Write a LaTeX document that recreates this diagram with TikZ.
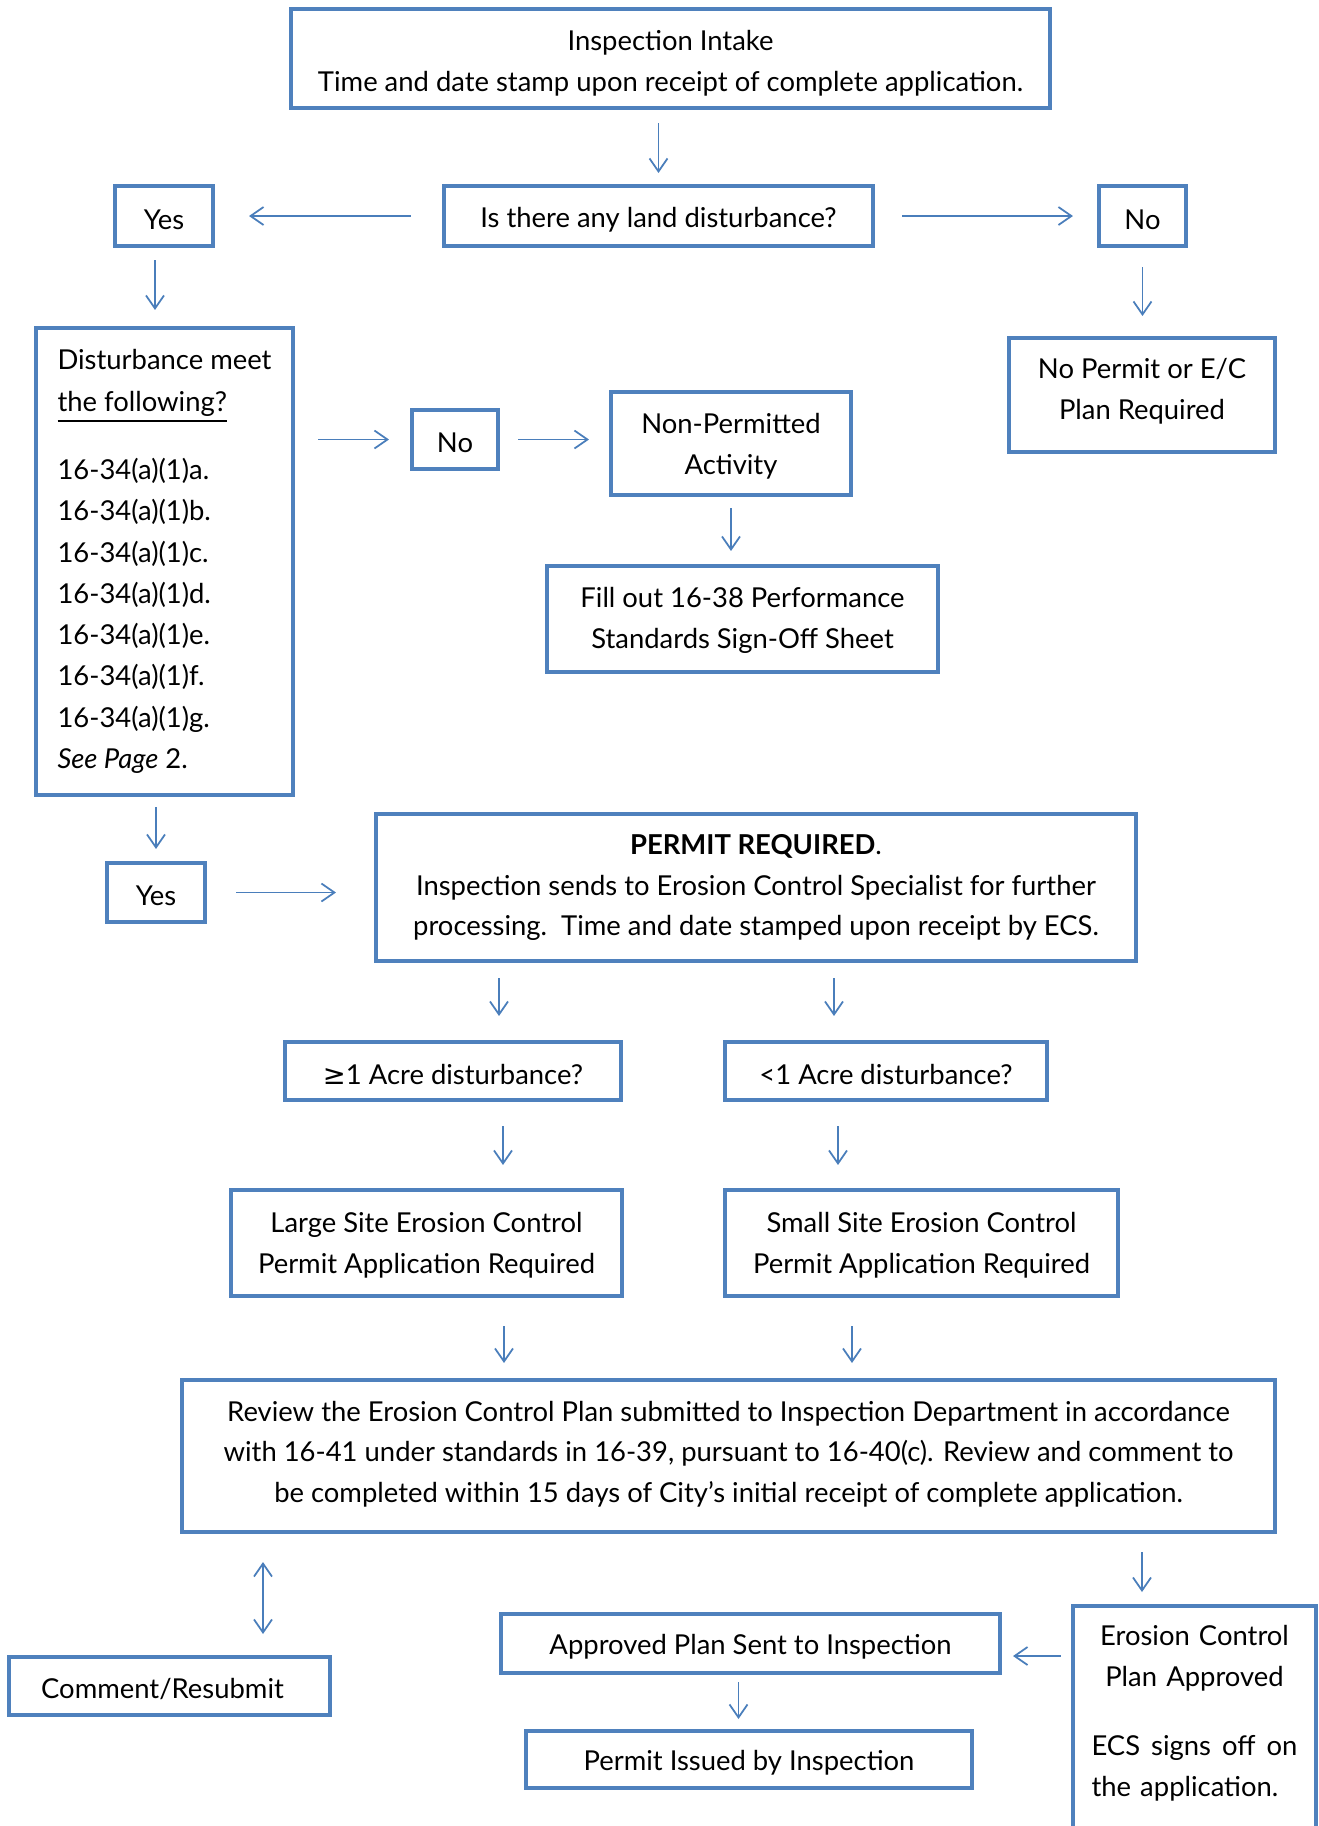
\documentclass[tikz,border=0pt]{standalone}
\usepackage{fontspec}
\setmainfont{Lato}
\newfontfamily\symfont{DejaVu Sans}
\usetikzlibrary{arrows.meta}
\definecolor{boxblue}{RGB}{79,129,189}
\definecolor{arrblue}{RGB}{74,126,187}

\begin{document}
\begin{tikzpicture}[x=1cm,y=-1cm,
  >={Straight Barb[length=1.3mm,width=1.8mm]},
  font=\fontsize{7.8}{11.6}\selectfont,
  box/.style={draw=boxblue,line width=1.15pt,align=center,inner sep=0pt},
  single/.style={box,text height=7.7pt},
  arr/.style={->,draw=arrblue,line width=0.5pt}]
\useasboundingbox (0,0) rectangle (13.18,18.26);
% top part
\node[box,minimum width=7.59cm,minimum height=0.99cm] (intake) at (6.705,0.585)
  {\rule{0pt}{8.4pt}Inspection Intake\\ Time and date stamp upon receipt of complete application.};
\node[single,minimum width=4.29cm,minimum height=0.60cm] (quest) at (6.585,2.16) {Is there any land disturbance?};
\node[single,minimum width=0.98cm,minimum height=0.60cm] (yes1) at (1.64,2.16) {Yes};
\node[single,minimum width=0.87cm,minimum height=0.60cm] (no1) at (11.425,2.16) {No};
\node[box,minimum width=2.66cm,minimum height=1.14cm] (nopermit) at (11.42,3.95) {No Permit or E/C\\ Plan Required\rule[-3.35pt]{0pt}{0pt}};
\node[box,align=left,font=\fontsize{7.8}{11.74}\selectfont,minimum width=2.57cm,minimum height=4.67cm] (dist) at (1.645,5.615)
  {Disturbance meet\\ \underline{the following?}\\[7.7pt]
   16-34(a)(1)a.\\ 16-34(a)(1)b.\\ 16-34(a)(1)c.\\ 16-34(a)(1)d.\\
   16-34(a)(1)e.\\ 16-34(a)(1)f.\\ 16-34(a)(1)g.\\ \textit{See Page} 2.};
\node[single,minimum width=0.86cm,minimum height=0.59cm] (no2) at (4.55,4.395) {No};
\node[box,minimum width=2.40cm,minimum height=1.03cm] (nonperm) at (7.31,4.435) {\rule{0pt}{7.45pt}Non-Permitted\\ Activity};
\node[box,minimum width=3.91cm,minimum height=1.06cm] (fill) at (7.425,6.19) {\rule{0pt}{6.5pt}Fill out 16-38 Performance\\ Standards Sign-Off Sheet};
% permit part
\node[single,minimum width=0.98cm,minimum height=0.59cm] (yes2) at (1.56,8.925) {Yes};
\node[box,minimum width=7.60cm,minimum height=1.47cm] (permit) at (7.56,8.875)
  {\textbf{PERMIT REQUIRED}.\\ Inspection sends to Erosion Control Specialist for further\\
   processing.\ \ Time and date stamped upon receipt by ECS.};
\node[single,minimum width=3.36cm,minimum height=0.58cm] (ge) at (4.53,10.71) {{\symfont ≥}1 Acre disturbance?};
\node[single,minimum width=3.22cm,minimum height=0.58cm] (lt) at (8.86,10.71) {<1 Acre disturbance?};
\node[box,minimum width=3.91cm,minimum height=1.06cm] (large) at (4.265,12.43) {\rule{0pt}{7.1pt}Large Site Erosion Control\\ Permit Application Required};
\node[box,minimum width=3.93cm,minimum height=1.06cm] (small) at (9.215,12.43) {\rule{0pt}{7.1pt}Small Site Erosion Control\\ Permit Application Required};
\node[box,minimum width=10.93cm,minimum height=1.52cm] (review) at (7.285,14.56)
  {Review the Erosion Control Plan submitted to Inspection Department in accordance\\
   with 16-41 under standards in 16-39, pursuant to 16-40(c). Review and comment to\\
   be completed within 15 days of City’s initial receipt of complete application.\rule[-2.4pt]{0pt}{0pt}};
% bottom part
\node[single,minimum width=3.21cm,minimum height=0.58cm] (comment) at (1.695,16.86) {Comment/Resubmit\hspace*{0.14cm}};
\node[single,minimum width=4.99cm,minimum height=0.59cm] (approved) at (7.505,16.435) {Approved Plan Sent to Inspection};
\node[single,minimum width=4.46cm,minimum height=0.57cm] (issued) at (7.49,17.595) {Permit Issued by Inspection};
\node[box,anchor=north,align=left,text width=2.06cm,inner xsep=0.185cm,inner ysep=3.6pt,text height=7.7pt,text depth=2.5cm] (ecs) at (11.945,16.04)
  {{\centering Erosion Control\\ Plan Approved\par}\vspace{8pt}
   \noindent ECS\hfill signs\hfill off\hfill on\\ the application.};
% arrows
\draw[arr,shorten <=0.13cm,shorten >=0.11cm] (intake.south -| quest.north) -- (quest.north);
\draw[arr,shorten <=0.31cm,shorten >=0.34cm] (quest.west) -- (yes1.east);
\draw[arr,shorten <=0.27cm,shorten >=0.24cm] (quest.east) -- (no1.west);
\draw[arr,shorten <=0.12cm,shorten >=0.16cm] ([xshift=-0.09cm]yes1.south) -- ([xshift=-0.09cm]yes1.south |- dist.north);
\draw[arr,shorten <=0.19cm,shorten >=0.20cm] (no1.south) -- (no1.south |- nopermit.north);
\draw[arr,shorten <=0.23cm,shorten >=0.21cm] (dist.east |- no2.west) -- (no2.west);
\draw[arr,shorten <=0.18cm,shorten >=0.20cm] (no2.east) -- (no2.east -| nonperm.west);
\draw[arr,shorten <=0.11cm,shorten >=0.13cm] (nonperm.south) -- (nonperm.south |- fill.north);
\draw[arr,shorten <=0.10cm,shorten >=0.12cm] (yes2.north |- dist.south) -- (yes2.north);
\draw[arr,shorten <=0.29cm,shorten >=0.38cm] (yes2.east) -- (yes2.east -| permit.west);
\draw[arr,shorten <=0.15cm,shorten >=0.24cm] ([xshift=0.46cm]ge.north |- permit.south) -- ([xshift=0.46cm]ge.north);
\draw[arr,shorten <=0.15cm,shorten >=0.24cm] ([xshift=-0.52cm]lt.north |- permit.south) -- ([xshift=-0.52cm]lt.north);
\draw[arr,shorten <=0.24cm,shorten >=0.23cm] ([xshift=0.5cm]ge.south) -- ([xshift=0.5cm]ge.south |- large.north);
\draw[arr,shorten <=0.24cm,shorten >=0.23cm] ([xshift=-0.48cm]lt.south) -- ([xshift=-0.48cm]lt.south |- small.north);
\draw[arr,shorten <=0.28cm,shorten >=0.15cm] ([xshift=0.775cm]large.south) -- ([xshift=0.775cm]large.south |- review.north);
\draw[arr,shorten <=0.28cm,shorten >=0.15cm] ([xshift=-0.695cm]small.south) -- ([xshift=-0.695cm]small.south |- review.north);
\draw[arr,<->,shorten <=0.28cm,shorten >=0.21cm] ([xshift=0.935cm]comment.north |- review.south) -- ([xshift=0.935cm]comment.north);
\draw[arr,shorten <=0.18cm,shorten >=0.12cm] ([xshift=-0.525cm]ecs.north |- review.south) -- ([xshift=-0.525cm]ecs.north);
\draw[arr,shorten <=0.10cm,shorten >=0.11cm] ([yshift=-0.125cm]approved.east -| ecs.west) -- ([yshift=-0.125cm]approved.east);
\draw[arr,shorten <=0.07cm,shorten >=0.10cm] ([xshift=-0.12cm]approved.south) -- ([xshift=-0.12cm]approved.south |- issued.north);
\end{tikzpicture}
\end{document}
